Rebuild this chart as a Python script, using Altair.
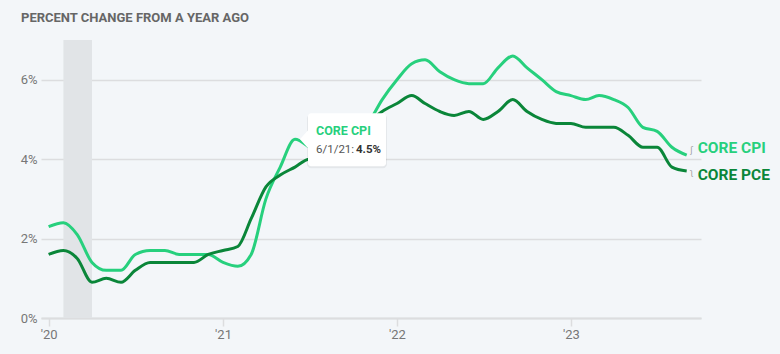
import altair as alt
import pandas as pd

# ---------------- data ----------------
months = pd.date_range("2020-01-01", "2023-09-01", freq="MS").strftime("%Y-%m-%d").tolist()

core_cpi = [
    2.3, 2.4, 2.1, 1.4, 1.2, 1.2, 1.6, 1.7, 1.7, 1.6, 1.6, 1.6,
    1.4, 1.3, 1.6, 3.0, 3.8, 4.5, 4.3, 4.0, 4.0, 4.6, 4.9, 5.5,
    6.0, 6.4, 6.5, 6.2, 6.0, 5.9, 5.9, 6.3, 6.6, 6.3, 6.0, 5.7,
    5.6, 5.5, 5.6, 5.5, 5.3, 4.8, 4.7, 4.3, 4.1,
]
core_pce = [
    1.6, 1.7, 1.5, 0.9, 1.0, 0.9, 1.2, 1.4, 1.4, 1.4, 1.4, 1.6,
    1.7, 1.8, 2.5, 3.3, 3.6, 3.8, 4.0, 4.0, 4.1, 4.5, 4.9, 5.2,
    5.4, 5.6, 5.4, 5.2, 5.1, 5.2, 5.0, 5.2, 5.5, 5.2, 5.0, 4.9,
    4.9, 4.8, 4.8, 4.8, 4.6, 4.3, 4.3, 3.8, 3.7,
]
series_names = ["CORE CPI", "CORE PCE"]
recession = {"start": ["2020-02-01"], "end": ["2020-04-01"], "top": [7], "bottom": [0]}
y_ticks = [0, 2, 4, 6]
x_tick_years = [2020, 2021, 2022, 2023]
tip_index = 17  # June 2021 core CPI point
tip_label = "6/1/21:"

# ---------------- styling ----------------
CPI_COLOR = "#27d07d"
PCE_COLOR = "#0a8639"
BG = "#f3f6f9"
FONT = "Roboto, Liberation Sans, sans-serif"
GRID = "#dcdddf"
LABEL = "#777777"

df = pd.DataFrame({
    "date": months * 2,
    "value": core_cpi + core_pce,
    "series": [series_names[0]] * len(months) + [series_names[1]] * len(months),
})

x_scale = alt.Scale(
    type="utc",
    domain=[alt.DateTime(year=2019, month=12, date=16, utc=True),
            alt.DateTime(year=2023, month=10, date=1, utc=True)],
)
y_scale = alt.Scale(domain=[0, 7], nice=False)
color_scale = alt.Scale(domain=series_names, range=[CPI_COLOR, PCE_COLOR])

x_axis = alt.Axis(
    values=[alt.DateTime(year=y, month=1, date=1, utc=True) for y in x_tick_years],
    labelExpr="\"'\" + utcFormat(datum.value, '%y')",
    grid=False, domain=True, domainColor=GRID, domainWidth=2,
    ticks=True, tickColor=GRID, tickSize=8, tickWidth=1.5,
    labelColor=LABEL, labelFontSize=13, labelFont=FONT, labelPadding=2,
    title=None,
)
y_axis = alt.Axis(
    values=y_ticks, labelExpr="datum.value + '%'",
    grid=True, gridColor=GRID, gridWidth=1.5,
    domain=False, ticks=False, labelPadding=4,
    labelColor=LABEL, labelFontSize=13, labelFont=FONT, title=None,
)

band = alt.Chart(pd.DataFrame(recession)).mark_rect(color="#e1e4e7").encode(
    x=alt.X("start:T", scale=x_scale, axis=x_axis),
    x2="end:T",
    y=alt.Y("top:Q", scale=y_scale, axis=y_axis),
    y2="bottom:Q",
)

lines = alt.Chart(df).mark_line(strokeWidth=3, interpolate="monotone").encode(
    x=alt.X("date:T", scale=x_scale, axis=x_axis),
    y=alt.Y("value:Q", scale=y_scale, axis=y_axis),
    color=alt.Color("series:N", scale=color_scale, legend=None),
)

# end labels
last_cpi = pd.DataFrame({"date": [months[-1]], "value": [core_cpi[-1]],
                         "label": [series_names[0]], "hook": ["\u0283"]})
last_pce = pd.DataFrame({"date": [months[-1]], "value": [core_pce[-1]],
                         "label": [series_names[1]], "hook": ["\u0285"]})


def end_layers(frame, color, dy_label, dy_hook):
    enc = dict(x=alt.X("date:T", scale=x_scale), y=alt.Y("value:Q", scale=y_scale))
    label = alt.Chart(frame).mark_text(
        align="left", baseline="middle", dx=11, dy=dy_label, fontSize=15.5,
        fontWeight="bold", font=FONT, color=color,
    ).encode(text="label:N", **enc)
    hook = alt.Chart(frame).mark_text(
        align="center", baseline="middle", dx=5, dy=dy_hook, fontSize=8,
        font="DejaVu Sans", color="#9a9a9a",
    ).encode(text="hook:N", **enc)
    return [label, hook]


end_cpi = end_layers(last_cpi, CPI_COLOR, -7, -4)
end_pce = end_layers(last_pce, PCE_COLOR, 4, 2)

# tooltip annotation
tip = pd.DataFrame({
    "date": [months[tip_index]],
    "value": [core_cpi[tip_index]],
    "name": [series_names[0]],
    "when": [tip_label],
    "val": [f"{core_cpi[tip_index]}%"],
})
tip_base = alt.Chart(tip).encode(
    x=alt.X("date:T", scale=x_scale), y=alt.Y("value:Q", scale=y_scale)
)
shadow = tip_base.mark_rect(
    color="#000000", opacity=0.06, cornerRadius=4,
    xOffset=12, x2Offset=92, yOffset=-25, y2Offset=29,
).encode(x2="date:T", y2="value:Q")
box = tip_base.mark_rect(
    color="white", cornerRadius=3,
    xOffset=13, x2Offset=91, yOffset=-26, y2Offset=27,
).encode(x2="date:T", y2="value:Q")
pointer = tip_base.mark_point(
    shape="M 0.9 -1 L 0 0 L 0.9 1 Z", size=484, filled=True, color="white",
    opacity=1, strokeWidth=0, xOffset=5,
)
tip_name = tip_base.mark_text(
    align="left", baseline="middle", dx=21, dy=-8, fontSize=12.5, fontWeight="bold",
    font=FONT, color=CPI_COLOR,
).encode(text="name:N")
tip_when = tip_base.mark_text(
    align="left", baseline="middle", dx=21, dy=11, fontSize=11.5,
    font=FONT, color="#555555",
).encode(text="when:N")
tip_val = tip_base.mark_text(
    align="left", baseline="middle", dx=61, dy=11, fontSize=11.5, fontWeight="bold",
    font=FONT, color="#333333",
).encode(text="val:N")

chart = alt.layer(
    band, lines, *end_cpi, *end_pce, shadow, box, pointer, tip_name, tip_when, tip_val
).properties(
    width=660,
    height=278,
    padding={"left": 41, "top": 40, "right": 79, "bottom": 36},
    autosize=alt.AutoSizeParams(type="none"),
    background=BG,
    title=alt.TitleParams(
        "PERCENT CHANGE FROM A YEAR AGO", anchor="start", frame="group",
        dx=-20, offset=15, fontSize=13, fontWeight="bold", color="#666666", font=FONT,
    ),
).configure_view(stroke=None)

chart.save("out.html", embed_options={"renderer": "svg", "actions": False})
